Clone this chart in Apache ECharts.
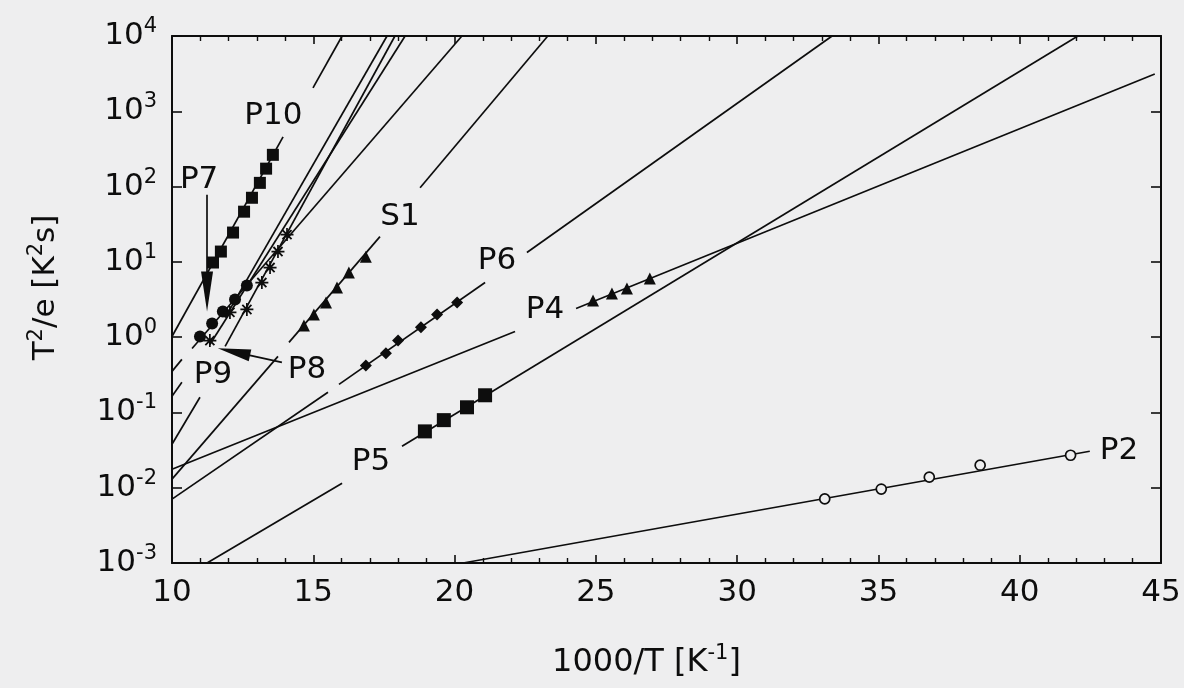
<!DOCTYPE html>
<html>
<head>
<meta charset="utf-8">
<script src="https://cdn.jsdelivr.net/npm/echarts@6.0.0/dist/echarts.min.js"></script>
<style>
  html, body { margin: 0; padding: 0; background: #eeeeef; }
  #chart { width: 1184px; height: 688px; }
</style>
</head>
<body>
<div id="chart"></div>
<script>
// measured points (1000/T, T^2/e)
const p2X = [33.1, 35.1, 36.8, 38.6, 41.8];
const p2Y = [0.0071, 0.0096, 0.0138, 0.0199, 0.027];
const p5X = [18.95, 19.62, 20.44, 21.08];
const p5Y = [0.056, 0.079, 0.117, 0.169];
const p4X = [24.9, 25.57, 26.1, 26.91];
const p4Y = [3.07, 3.8, 4.42, 6.0];
const p6X = [16.86, 17.57, 18.0, 18.81, 19.38, 20.09];
const p6Y = [0.42, 0.61, 0.9, 1.35, 2.0, 2.88];
const s1X = [14.67, 15.02, 15.45, 15.84, 16.26, 16.86];
const s1Y = [1.43, 2.0, 2.89, 4.56, 7.2, 11.7];
const p10X = [11.45, 11.73, 12.16, 12.55, 12.83, 13.11, 13.33, 13.57];
const p10Y = [9.8, 13.7, 24.5, 46.4, 71, 112, 173, 264];
const p9X = [10.99, 11.42, 11.8, 12.23, 12.65];
const p9Y = [1.02, 1.52, 2.19, 3.16, 4.85];
const p8X = [12.65, 13.18, 13.47, 13.75, 14.07];
const p8Y = [2.33, 5.31, 8.4, 13.7, 23];
const starX = [11.34, 12.05];
const starY = [0.9, 2.13];

// fitted lines, split where the drawing leaves a gap
const p2Fit = [[[20.3, 0.001], [42.48, 0.0305]]];
const p5Fit = [[[11.24, 0.001], [16.02, 0.0115]], [[18.14, 0.0356], [42.06, 10000]]];
const p4Fit = [[[10, 0.0176], [22.14, 1.19]], [[24.3, 2.4], [44.78, 3135]]];
const s1Fit = [[[10, 0.013], [13.75, 0.555]], [[14.14, 0.851], [17.36, 21.6]], [[18.78, 96.6], [23.3, 10000]]];
const p6Fit = [[[10, 0.00705], [15.52, 0.185]], [[15.91, 0.236], [21.08, 5.31]], [[22.56, 13.3], [33.36, 10000]]];
const p10Fit = [[[10, 1.02], [13.93, 458]], [[14.99, 2045], [16.02, 10000]]];
const p9Fit = [[[10, 0.351], [10.35, 0.507]], [[10.71, 0.708], [20.26, 10000]]];
const p8Fit = [[[10, 0.0378], [10.99, 0.159]], [[11.88, 0.753], [17.89, 10000]]];
const xFit = [[[10, 0.164], [10.35, 0.251]], [[11.34, 0.8], [18.25, 10000]]];
const zFit = [[[11.88, 1.82], [17.61, 10000]]];

// curve labels
const labelNames = ['P10', 'P7', 'S1', 'P6', 'P4', 'P9', 'P8', 'P5', 'P2'];
const labelX = [13.59, 10.96, 18.07, 21.5, 23.2, 11.45, 14.78, 17.04, 43.51];
const labelY = [953, 135, 43.6, 11.1, 2.48, 0.34, 0.397, 0.0239, 0.0335];

const INK = '#0d0d0d';
const BG = '#eeeeef';
const FONT = 'DejaVu Sans';

const STAR = 'path://M-0.8,-6L0.8,-6L0.8,6L-0.8,6Z M-6,-0.8L6,-0.8L6,0.8L-6,0.8Z ' +
  'M-3.6,-4.8L4.8,3.6L3.6,4.8L-4.8,-3.6Z M-4.8,3.6L3.6,-4.8L4.8,-3.6L-3.6,4.8Z';

let chart = echarts.init(document.getElementById('chart'));

function pts(xs, ys) {
  return xs.map((x, i) => [x, ys[i]]);
}

function fitSeries(segs) {
  return segs.map(s => ({
    type: 'line',
    data: s,
    symbol: 'none',
    silent: true,
    z: 2,
    lineStyle: { color: INK, width: 1.7 },
  }));
}

function marks(xs, ys, symbol, size, hollow) {
  return {
    type: 'scatter',
    data: pts(xs, ys),
    symbol: symbol,
    symbolSize: size,
    silent: true,
    z: 3,
    itemStyle: hollow
      ? { color: BG, borderColor: INK, borderWidth: 1.7, opacity: 1 }
      : { color: INK, opacity: 1 },
  };
}

function arrow(from, to, size) {
  return {
    type: 'line',
    data: [],
    silent: true,
    markLine: {
      silent: true,
      symbol: ['none', 'triangle'],
      symbolSize: size,
      label: { show: false },
      lineStyle: { color: INK, width: 1.7, type: 'solid', opacity: 1 },
      emphasis: { disabled: true },
      data: [[{ coord: from }, { coord: to }]],
    },
  };
}

const supRich = {
  s: { fontSize: 21, fontFamily: FONT, color: INK, verticalAlign: 'top', lineHeight: 21 },
};

let option = {
  backgroundColor: BG,
  animation: false,
  grid: { left: 172, right: 23, top: 36, bottom: 124 },
  xAxis: [
    {
      type: 'value',
      min: 10,
      max: 45,
      interval: 5,
      name: '1000/T [K{s|-1}]',
      nameLocation: 'middle',
      nameGap: 80,
      nameTextStyle: {
        fontSize: 32, fontFamily: FONT, color: INK, lineHeight: 40,
        padding: [0, 40, 0, 0], rich: supRich,
      },
      axisLine: { lineStyle: { color: INK, width: 2 } },
      axisTick: { inside: true, length: 8, lineStyle: { color: INK, width: 1.6 } },
      minorTick: { show: true, splitNumber: 5, length: 5, lineStyle: { color: INK, width: 1.4 } },
      axisLabel: { fontSize: 31, fontFamily: FONT, color: INK, margin: 14 },
      splitLine: { show: false },
    },
    {
      type: 'value',
      position: 'top',
      min: 10,
      max: 45,
      interval: 5,
      axisLine: { lineStyle: { color: INK, width: 2 } },
      axisTick: { inside: true, length: 8, lineStyle: { color: INK, width: 1.6 } },
      minorTick: { show: true, splitNumber: 5, length: 5, lineStyle: { color: INK, width: 1.4 } },
      axisLabel: { show: false },
      splitLine: { show: false },
    },
  ],
  yAxis: [
    {
      type: 'log',
      logBase: 10,
      min: 0.001,
      max: 10000,
      name: 'T{s|2}/e [K{s|2}s]',
      nameLocation: 'middle',
      nameRotate: 90,
      nameGap: 106,
      nameTextStyle: {
        fontSize: 31, fontFamily: FONT, color: INK, lineHeight: 40,
        padding: [0, 0, 0, 24], rich: supRich,
      },
      axisLine: { lineStyle: { color: INK, width: 2 } },
      axisTick: { inside: true, length: 10, lineStyle: { color: INK, width: 1.6 } },
      axisLabel: {
        margin: 15,
        formatter: v => '{b|10}{e|' + Math.round(Math.log10(v)) + '}',
        rich: {
          b: { fontSize: 31, fontFamily: FONT, color: INK, lineHeight: 40 },
          e: { fontSize: 21, fontFamily: FONT, color: INK, verticalAlign: 'top', lineHeight: 21 },
        },
      },
      splitLine: { show: false },
    },
    {
      type: 'log',
      logBase: 10,
      min: 0.001,
      max: 10000,
      position: 'right',
      axisLine: { lineStyle: { color: INK, width: 2 } },
      axisTick: { inside: true, length: 10, lineStyle: { color: INK, width: 1.6 } },
      axisLabel: { show: false },
      splitLine: { show: false },
    },
  ],
  series: [
    ...fitSeries(p2Fit),
    ...fitSeries(p5Fit),
    ...fitSeries(p4Fit),
    ...fitSeries(s1Fit),
    ...fitSeries(p6Fit),
    ...fitSeries(p10Fit),
    ...fitSeries(p9Fit),
    ...fitSeries(p8Fit),
    ...fitSeries(xFit),
    ...fitSeries(zFit),
    marks(p2X, p2Y, 'circle', 10, true),
    marks(p5X, p5Y, 'rect', 14),
    marks(p4X, p4Y, 'triangle', 12),
    marks(s1X, s1Y, 'triangle', 12),
    marks(p6X, p6Y, 'diamond', 12),
    marks(p10X, p10Y, 'rect', 12),
    marks(p9X, p9Y, 'circle', 12),
    marks(p8X, p8Y, STAR, 13),
    marks(starX, starY, STAR, 13),
    arrow([11.24, 78], [11.24, 4.04], [12, 40]),
    arrow([13.89, 0.462], [12.19, 0.637], [12, 33]),
    {
      type: 'scatter',
      silent: true,
      z: 4,
      symbolSize: 1,
      itemStyle: { color: 'transparent', opacity: 1 },
      data: labelNames.map((n, i) => ({ name: n, value: [labelX[i], labelY[i]] })),
      label: {
        show: true,
        position: 'inside',
        offset: [0, 3],
        formatter: '{b}',
        fontSize: 31,
        fontFamily: FONT,
        color: INK,
      },
    },
  ],
};

chart.setOption(option);
</script>
</body>
</html>
